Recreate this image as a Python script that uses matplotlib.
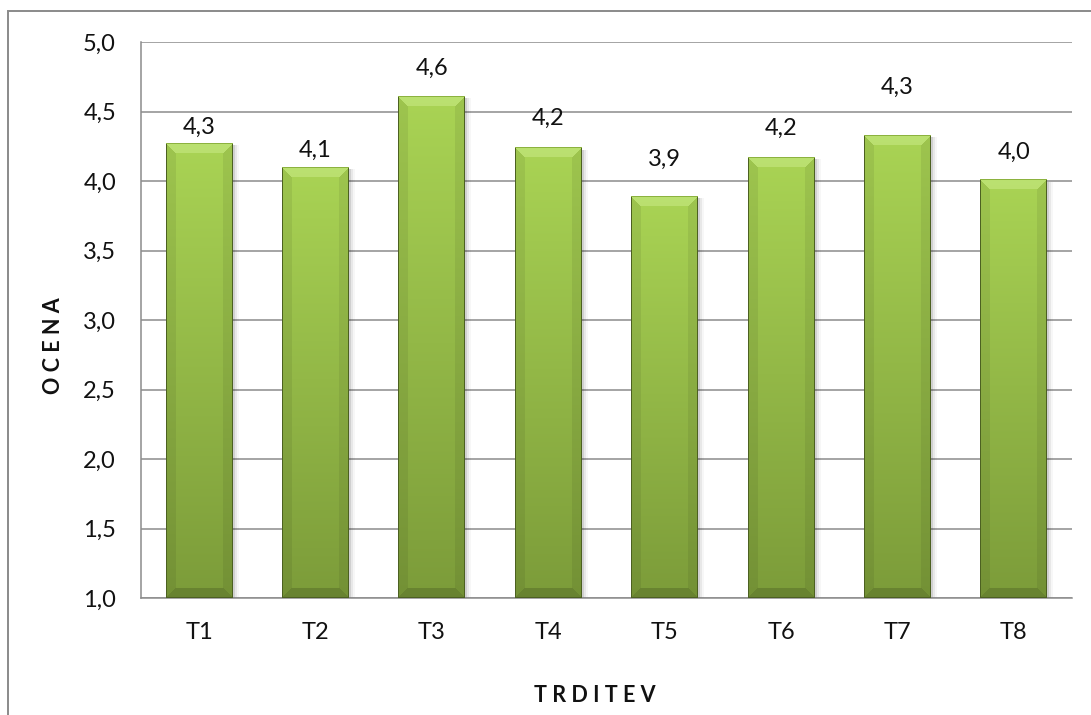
import numpy as np
import matplotlib
matplotlib.use("Agg")
import matplotlib.pyplot as plt
from matplotlib.patches import Rectangle
from matplotlib.ticker import FuncFormatter, MultipleLocator

# Scores per item
categories = ["T1", "T2", "T3", "T4", "T5", "T6", "T7", "T8"]
scores = [4.27, 4.10, 4.61, 4.24, 3.89, 4.17, 4.33, 4.01]
x_title = "TRDITEV"
y_title = "OCENA"

# label placement above each bar (pixels)
label_offsets_px = [16, 17, 28, 29, 37, 29, 48, 27]

W, H, DPI = 1091, 715, 100
plt.rcParams["font.family"] = ["Lato", "DejaVu Sans"]

fig = plt.figure(figsize=(W / DPI, H / DPI), dpi=DPI)
fig.patch.set_facecolor("white")

# outer chart frame
fig.add_artist(Rectangle((8 / W, -0.05), 1.2, 1 - 11 / H + 0.05,
                         transform=fig.transFigure, fill=False,
                         edgecolor="#8a8a8a", linewidth=1.4))

left, right, top, bottom = 141, 1072, 42, 598
ax = fig.add_axes([left / W, 1 - bottom / H, (right - left) / W, (bottom - top) / H])

ymin, ymax = 1.0, 5.0
bar_w = 0.575
x = np.arange(len(categories))


def bevel_image(wpx, hpx, b=10):
    yy, xx = np.mgrid[0:hpx, 0:wpx] + 0.5
    t = (yy / hpx)[..., None]
    top_c = np.array([0.665, 0.83, 0.33])
    bot_c = np.array([0.485, 0.61, 0.225])
    img = top_c * (1 - t) + bot_c * t
    dt, db, dl, dr = yy, hpx - yy, xx, wpx - xx
    d = np.stack([dt, db, dl, dr])
    which = np.argmin(d, axis=0)
    dmin = d.min(axis=0)
    bev = dmin < b
    out = img.copy()
    m = bev & (which == 0)
    out[m] = img[m] * 0.5 + np.array([0.8, 0.93, 0.55]) * 0.5
    m = bev & (which == 1)
    out[m] = img[m] * 0.84
    m = bev & ((which == 2) | (which == 3))
    out[m] = img[m] * 0.93
    edge = dmin < 1.3
    m = edge & (which != 0)
    out[m] = np.array([0.30, 0.38, 0.13])
    m = edge & (which == 0)
    out[m] = np.array([0.55, 0.70, 0.25])
    return np.clip(out, 0, 1)


px_per_y = (bottom - top) / (ymax - ymin)
px_per_x = (right - left) / len(categories)

for xi, v, off in zip(x, scores, label_offsets_px):
    # soft shadow to the right
    for k, a in ((2, 0.10), (4, 0.06), (6, 0.03)):
        ax.add_patch(Rectangle((xi - bar_w / 2 + k / px_per_x, ymin), bar_w, v - ymin - 2 / px_per_y,
                               facecolor="#000000", alpha=a, edgecolor="none", zorder=2.5))
    hpx = max(int(round((v - ymin) * px_per_y)), 2)
    wpx = int(round(bar_w * px_per_x))
    ax.imshow(bevel_image(wpx, hpx), extent=(xi - bar_w / 2, xi + bar_w / 2, ymin, v),
              origin="upper", aspect="auto", interpolation="bilinear", zorder=3)
    ax.annotate(f"{v:.1f}".replace(".", ","), xy=(xi, v), xytext=(0, off * 72 / DPI),
                textcoords="offset points", ha="center", va="center",
                fontsize=17, color="#111111", zorder=5)

ax.set_xlim(-0.5, len(categories) - 0.5)
ax.set_ylim(ymin, ymax)
ax.set_xticks(x)
ax.set_xticklabels(categories)
ax.yaxis.set_major_locator(MultipleLocator(0.5))
ax.yaxis.set_major_formatter(FuncFormatter(lambda v, p: f"{v:.1f}".replace(".", ",")))
ax.tick_params(axis="both", length=0, labelsize=17, colors="#111111")
ax.tick_params(axis="y", pad=18)
ax.tick_params(axis="x", pad=17)

ax.grid(axis="y", color="#8c8c8c", linewidth=1.1, zorder=1)
ax.set_axisbelow(True)
for s in ["top", "right"]:
    ax.spines[s].set_visible(False)
for s in ["left", "bottom"]:
    ax.spines[s].set_color("#8c8c8c")
    ax.spines[s].set_linewidth(1.1)

fig.text(595 / W, 1 - 695 / H, " ".join(x_title), ha="center", va="center",
         fontsize=15.5, fontweight="bold", color="#111111")
fig.text(53 / W, 1 - 346 / H, " ".join(y_title), ha="center", va="center",
         rotation=90, fontsize=15.5, fontweight="bold", color="#111111")

fig.savefig("out.png", dpi=DPI)
